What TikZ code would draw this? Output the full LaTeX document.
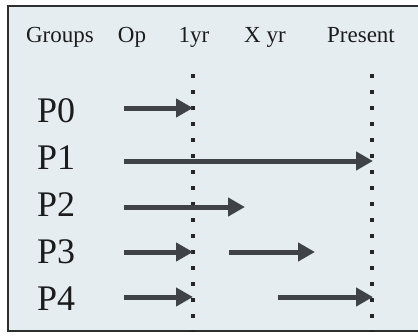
\documentclass[tikz,border=0pt]{standalone}
\usepackage{fontspec}
\setmainfont{Liberation Serif}
\usetikzlibrary{arrows.meta}
\definecolor{panelbg}{HTML}{E6EDF1}
\definecolor{framec}{HTML}{2E2E2E}
\definecolor{arrowc}{HTML}{3F4347}
\definecolor{textc}{HTML}{1C1C1C}
\tikzset{
  hdr/.style={anchor=base, inner sep=0pt, text=textc, font=\fontsize{23}{23}\selectfont},
  grp/.style={anchor=base west, inner sep=0pt, text=textc, font=\fontsize{36}{36}\selectfont},
  bigarrow/.style={draw=arrowc, line width=5pt, -{Triangle[length=17pt,width=18pt]}, shorten <=0pt},
  timeline/.style={draw=black!85, line width=3.5pt, dash pattern=on 3.5pt off 12.5pt}
}
\begin{document}
\begin{tikzpicture}[x=1pt,y=-1pt]
\useasboundingbox (0,0) rectangle (418,335);
\fill[white] (0,0) rectangle (418,335);
\fill[panelbg] (8,6) rectangle (425,331);
\draw[framec, line width=2pt] (425,6) -- (8,6) -- (8,331) -- (425,331);
% header
\node[hdr] (hg) at (60,42) {Groups};
\node[hdr] (ho) at (132,42) {Op};
\node[hdr] (h1) at (194,42) {1yr};
\node[hdr] (hx) at (265,42) {X yr};
\node[hdr] (hp) at (361,42) {Present};
% timelines
\coordinate (t1a) at (193,74);
\coordinate (t1b) at (193,332);
\coordinate (t2a) at (372,74);
\coordinate (t2b) at (372,332);
\draw[timeline] (t1a) -- (t1b);
\draw[timeline] (t2a) -- (t2b);
% group labels
\node[grp] (p0) at (37,122) {P0};
\node[grp] (p1) at (37,169) {P1};
\node[grp] (p2) at (37,216) {P2};
\node[grp] (p3) at (37,263) {P3};
\node[grp] (p4) at (37,310) {P4};
% arrow ends
\coordinate (a0s) at (124,108); \coordinate (a0e) at (193,108);
\coordinate (a1s) at (124,161); \coordinate (a1e) at (373,161);
\coordinate (a2s) at (124,207); \coordinate (a2e) at (245,207);
\coordinate (a3s) at (124,252); \coordinate (a3e) at (193,252);
\coordinate (a3bs) at (229,252); \coordinate (a3be) at (315,252);
\coordinate (a4s) at (124,297); \coordinate (a4e) at (193,297);
\coordinate (a4bs) at (278,297); \coordinate (a4be) at (373,297);
\draw[bigarrow] (a0s) -- (a0e);
\draw[bigarrow] (a1s) -- (a1e);
\draw[bigarrow] (a2s) -- (a2e);
\draw[bigarrow] (a3s) -- (a3e);
\draw[bigarrow] (a3bs) -- (a3be);
\draw[bigarrow] (a4s) -- (a4e);
\draw[bigarrow] (a4bs) -- (a4be);
\end{tikzpicture}
\end{document}
